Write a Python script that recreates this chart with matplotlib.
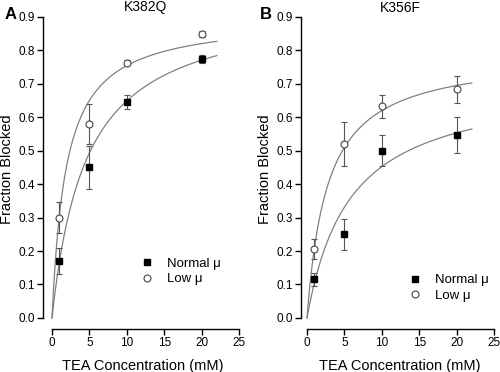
import numpy as np
import matplotlib
matplotlib.use("Agg")
import matplotlib.pyplot as plt

plt.rcParams['font.family'] = ['Liberation Sans', 'DejaVu Sans']

conc = [1, 5, 10, 20]

# Panel A (K382Q)
a_normal = [0.17, 0.45, 0.645, 0.775]
a_normal_err = [0.04, 0.065, 0.02, 0.012]
a_low = [0.30, 0.58, 0.763, 0.848]
a_low_err = [0.045, 0.06, 0.008, 0.008]
a_fit_normal = (0.948, 4.61)   # (Bmax, Kd)
a_fit_low = (0.898, 1.91)

# Panel B (K356F)
b_normal = [0.115, 0.25, 0.50, 0.547]
b_normal_err = [0.02, 0.047, 0.047, 0.053]
b_low = [0.205, 0.52, 0.632, 0.683]
b_low_err = [0.03, 0.065, 0.035, 0.04]
b_fit_normal = (0.712, 5.75)
b_fit_low = (0.79, 2.75)

titles = ["K382Q", "K356F"]
panel_letters = ["A", "B"]
xticks = [0, 5, 10, 15, 20, 25]
yticks = [0.0, 0.1, 0.2, 0.3, 0.4, 0.5, 0.6, 0.7, 0.8, 0.9]

fig = plt.figure(figsize=(5.0, 3.72), dpi=100)

axes_rects = [
    [43/500, (372-329)/372, 200/500, (329-10)/372],
    [301/500, (372-329)/372, 197/500, (329-10)/372],
]
xlefts = [-1.2, -0.8]
panels = [
    (a_normal, a_normal_err, a_low, a_low_err, a_fit_normal, a_fit_low),
    (b_normal, b_normal_err, b_low, b_low_err, b_fit_normal, b_fit_low),
]
legend_locs = [(0.46, 0.12), (0.52, 0.068)]
letter_x = [5/500, 260/500]

curve_x = np.linspace(0, 22, 200)

for i, (rect, pdata) in enumerate(zip(axes_rects, panels)):
    ax = fig.add_axes(rect)
    nrm, nrm_e, low, low_e, fn, fl = pdata
    for (bmax, kd) in (fn, fl):
        ax.plot(curve_x, bmax * curve_x / (kd + curve_x), color='#808080', lw=0.9, zorder=1)
    ax.errorbar(conc, low, yerr=low_e, fmt='none', ecolor='#555555', elinewidth=0.8,
                capsize=2.2, capthick=0.8, zorder=2)
    ax.errorbar(conc, nrm, yerr=nrm_e, fmt='none', ecolor='#555555', elinewidth=0.8,
                capsize=2.2, capthick=0.8, zorder=2)
    ax.plot(conc, nrm, 's', color='black', ms=4.5, zorder=3, label='Normal \u03bc')
    ax.plot(conc, low, 'o', mfc='white', mec='#444444', mew=0.8, ms=5, zorder=3, label='Low \u03bc')

    ax.set_xlim(xlefts[i], 25.5)
    ax.set_ylim(-0.033, 0.92)
    ax.set_xticks(xticks)
    ax.set_yticks(yticks)
    ax.set_yticklabels([f"{v:.1f}" for v in yticks])
    ax.spines['top'].set_visible(False)
    ax.spines['right'].set_visible(False)
    ax.spines['left'].set_bounds(0, 0.9)
    ax.spines['bottom'].set_bounds(0, 25)
    for s in ('left', 'bottom'):
        ax.spines[s].set_linewidth(1.0)
    ax.tick_params(direction='out', length=4, width=1.0, labelsize=8.5, pad=2)
    ax.set_xlabel("TEA Concentration (mM)", fontsize=10.5, labelpad=7)
    ax.set_ylabel("Fraction Blocked", fontsize=10.5, labelpad=3)
    ax.legend(loc='lower left', bbox_to_anchor=legend_locs[i], frameon=False,
              fontsize=9.5, handlelength=1.0, handletextpad=1.0, labelspacing=0.25,
              borderaxespad=0)
    cx = rect[0] + rect[2] * (12.5 - xlefts[i]) / (25.5 - xlefts[i])
    fig.text(cx, 1 - 0.5/372, titles[i], fontsize=10, ha='center', va='top')
    fig.text(letter_x[i], 1 - 7/372, panel_letters[i], fontsize=12, fontweight='bold',
             ha='left', va='top')

fig.savefig("out.png", dpi=100)
